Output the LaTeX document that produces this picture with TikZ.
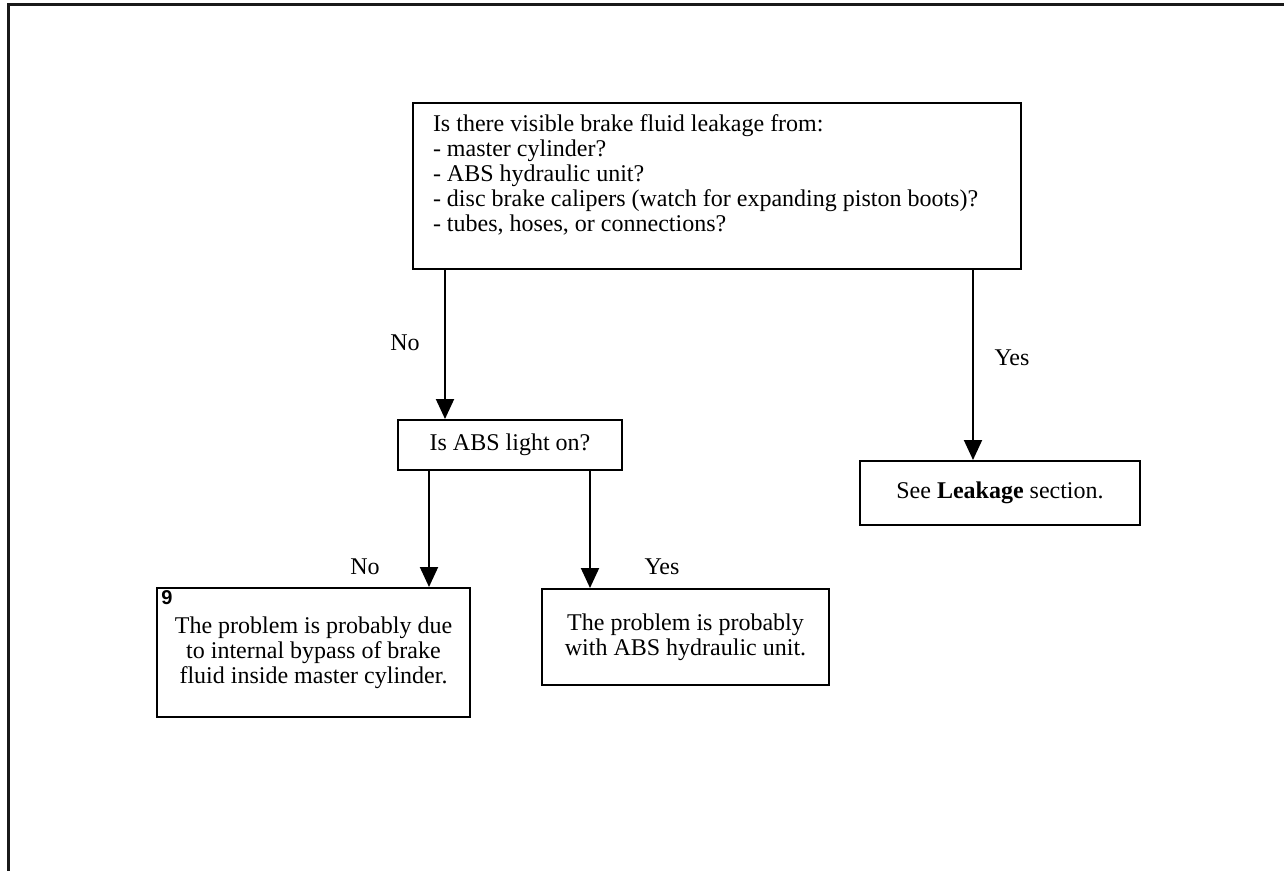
\documentclass[tikz,border=0pt]{standalone}
\usepackage{fontspec}
\setmainfont{Liberation Serif}
\newfontfamily\numfont{Liberation Sans}
\usetikzlibrary{arrows.meta}
\tikzset{
  box/.style={draw, line width=1pt, inner sep=0pt, font=\fontsize{12}{12.5}\selectfont},
  flow/.style={line width=1pt, -{Triangle[width=9pt,length=10pt]}},
  lbl/.style={font=\fontsize{12}{12.5}\selectfont},
}
\begin{document}
\begin{tikzpicture}[x=0.5pt, y=-0.5pt]
    \useasboundingbox (0,0) rectangle (1284,871);
    \draw[line width=1.5pt, black!90] (8,871) -- (8,5) -- (1284,5);
    % question boxes
    \node[box, minimum width=304pt, minimum height=83pt, text width=284pt, align=flush left] (leak) at (717,186)
        {Is there visible brake fluid leakage from:\\
         - master cylinder?\\
         - ABS hydraulic unit?\\
         - disc brake calipers (watch for expanding piston boots)?\\
         - tubes, hoses, or connections?\\ \mbox{}};
    \node[box, minimum width=112pt, minimum height=25pt] (abs) at (510,445) {Is ABS light on?};
    % answers
    \node[box, minimum width=140pt, minimum height=32pt] (seeleak) at (1000,493) {See \textbf{Leakage} section.};
    \node[box, minimum width=156.5pt, minimum height=64.5pt, align=flush center] (bypass) at (313.5,652.5)
        {The problem is probably due\\ to internal bypass of brake\\ fluid inside master cylinder.};
    \node[font=\numfont\bfseries\fontsize{10}{12}\selectfont, anchor=north west, inner sep=0pt] (num) at (161,590) {9};
    \node[box, minimum width=143.5pt, minimum height=48pt, align=flush center] (hydr) at (685.5,637)
        {The problem is probably\\ with ABS hydraulic unit.};
    % connectors
    \draw[flow] (leak.south -| 445,0) -- (abs.north -| 445,0);
    \draw[flow] (leak.south -| 973,0) -- (seeleak.north -| 973,0);
    \draw[flow] (abs.south -| 429,0) -- (bypass.north -| 429,0);
    \draw[flow] (abs.south -| 590,0) -- (hydr.north -| 590,0);
    \node[lbl] (no1) at (405,343) {No};
    \node[lbl] (yes1) at (1012,358) {Yes};
    \node[lbl] (no2) at (365,567) {No};
    \node[lbl] (yes2) at (662,567) {Yes};
\end{tikzpicture}
\end{document}
